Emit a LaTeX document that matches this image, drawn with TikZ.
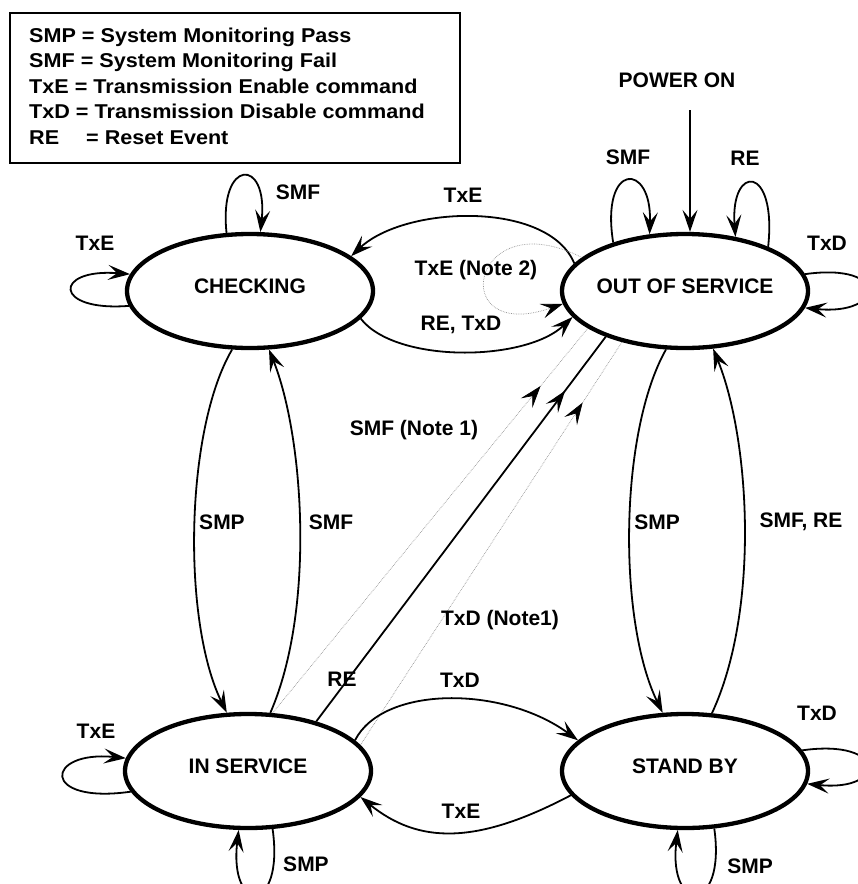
\documentclass[tikz,border=0pt]{standalone}
\usepackage{fontspec}
\setmainfont{Liberation Sans}
\newfontfamily\legfont[FakeStretch=1.08]{Liberation Sans}
\usetikzlibrary{arrows.meta,shapes.geometric,decorations.markings}
\definecolor{thingray}{RGB}{150,150,150}
\tikzset{
  state/.style={ellipse, draw, line width=4.3pt, minimum width=246pt, minimum height=114pt, inner sep=0pt},
  lab/.style={font=\fontsize{21}{25}\selectfont\bfseries, inner sep=0pt},
  statelab/.style={lab, yshift=5pt},
  leg/.style={font=\legfont\fontsize{20}{25}\selectfont\bfseries, inner sep=0pt, anchor=base west},
  tip/.tip={Stealth[length=22pt,width=15pt,inset=9pt,color=black]},
  conn/.style={line width=1.8pt, -tip},
  plainline/.style={line width=1.8pt},
  grayline/.style={line width=0.7pt, thingray, densely dotted},
  midarrow/.style={postaction={decorate}, decoration={markings, mark=at position #1 with {\arrow{tip}}}}
}
\begin{document}
\begin{tikzpicture}[x=1pt,y=-1pt]
\useasboundingbox (0,0) rectangle (858,884);
% legend
\node[draw, line width=2pt, minimum width=450pt, minimum height=150pt, inner sep=0pt] (legend) at (235,88) {};
\node[leg] (leg1) at (29,42) {SMP = System Monitoring Pass};
\node[leg] (leg2) at (29,67.5) {SMF = System Monitoring Fail};
\node[leg] (leg3) at (29,93) {TxE = Transmission Enable command};
\node[leg] (leg4) at (29,118.5) {TxD = Transmission Disable command};
\node[leg] (leg5) at (29,144) {RE\hspace{21pt} = Reset Event};
% states
\node[state, label={[statelab]center:CHECKING}] (chk) at (250,291) {};
\node[state, label={[statelab]center:OUT OF SERVICE}] (oos) at (685,291) {};
\node[state, label={[statelab]center:IN SERVICE}] (ins) at (248,771) {};
\node[state, label={[statelab]center:STAND BY}] (sb) at (685,771) {};
% power on
\node[lab] (pwrlab) at (677,80) {POWER ON};
\coordinate (pwr) at (690,110);
\draw[conn] (pwr) -- (pwr |- oos.north);
% CHECKING loops
\draw[conn] (chk.112) .. controls +(-8,-75) and +(8,-75) .. (chk.80);
\node[lab] (l1) at (298,192) {SMF};
\draw[conn] (chk.187) .. controls +(-76,6) and +(-77,-6) .. (chk.172);
\node[lab] (l2) at (95,243) {TxE};
% OOS -> CHECKING TxE
\draw[conn] (oos.166) .. controls +(-26,-63) and +(54,-51) .. (chk.19);
\node[lab] (l3) at (463,195) {TxE};
% TxE (Note 2) gray loop
\draw[grayline, -tip] (oos.162) .. controls +(-112,-57) and +(-118,41) .. (oos.186);
\node[lab] (l4) at (476,270) {TxE (Note 2)};
% RE, TxD
\draw[conn] (chk.346) .. controls +(35,45) and +(-47,45) .. (oos.193);
\node[lab] (l5) at (461,325) {RE, TxD};
% left verticals
\draw[conn] (chk.253) .. controls +(-47,80) and +(-45,-92) .. (ins.110);
\node[lab] (l6) at (222,522) {SMP};
\draw[conn] (ins.69) .. controls +(45,-103) and +(35,88) .. (chk.288);
\node[lab] (l7) at (331,522) {SMF};
% right verticals
\draw[conn] (oos.252) .. controls +(-47,83) and +(-45,-92) .. (sb.111);
\node[lab] (l8) at (657,522) {SMP};
\draw[conn] (sb.65) .. controls +(48,-103) and +(37,91) .. (oos.296);
\node[lab] (l9) at (801,522) {SMF, RE};
% diagonals
\draw[grayline, midarrow=0.85] (ins.67) -- (oos.201);
\node[lab] (l10) at (414,430) {SMF (Note 1)};
\draw[plainline, midarrow=0.86] (ins.36) -- (oos.210);
\node[lab] (l11) at (342,679) {RE};
\draw[grayline, midarrow=0.85] (ins.13) -- (oos.219);
\node[lab] (l12) at (500,620) {TxD (Note1)};
% IS <-> SB
\draw[conn] (ins.16) .. controls +(28,-55) and +(-75,-55) .. (sb.164);
\node[lab] (l13) at (460,680) {TxD};
\draw[conn] (sb.192) .. controls +(-95,50) and +(58,47) .. (ins.347);
\node[lab] (l14) at (461,811) {TxE};
% IN SERVICE loops
\draw[conn] (ins.190) .. controls +(-91,13) and +(-81,-8) .. (ins.174);
\node[lab] (l15) at (96,731) {TxE};
\draw[conn] (ins.293) .. controls +(12,86) and +(-10,84) .. (ins.261);
\node[lab] (l16) at (306,864) {SMP};
% STAND BY loops
\draw[conn] (sb.297) .. controls +(12,86) and +(-10,84) .. (sb.263);
\node[lab] (l17) at (750,866) {SMP};
\draw[conn] (sb.10) .. controls +(85,-12) and +(80,8) .. (sb.354);
\node[lab] (l18) at (817,713) {TxD};
% OOS loops
\draw[conn] (oos.8) .. controls +(85,-12) and +(80,8) .. (oos.352);
\node[lab] (l19) at (827,243) {TxD};
\draw[conn] (oos.146) .. controls +(-13,-81) and +(2.5,-73) .. (oos.122);
\node[lab] (l20) at (628,157) {SMF};
\draw[conn] (oos.28) .. controls +(9,-83) and +(-5.5,-73) .. (oos.47);
\node[lab] (l21) at (745,158) {RE};
\end{tikzpicture}
\end{document}
